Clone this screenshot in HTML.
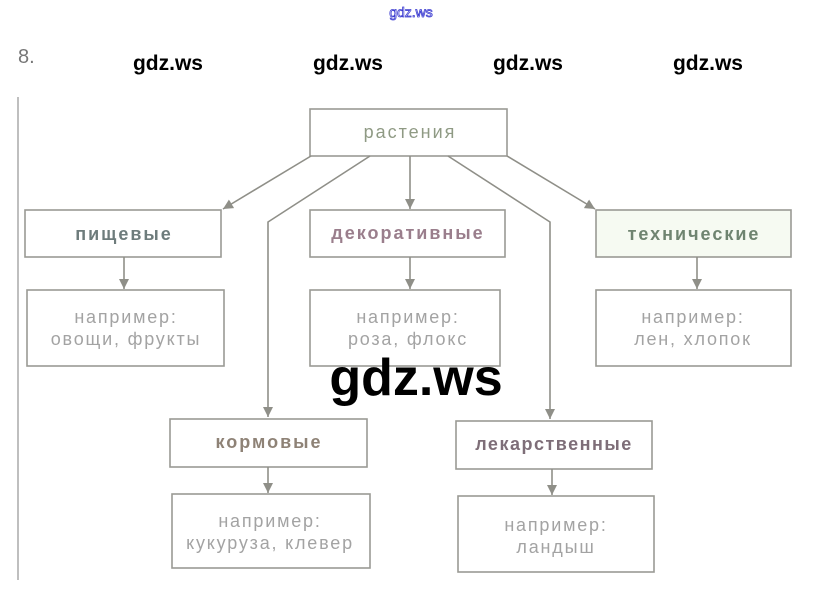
<!DOCTYPE html>
<html><head><meta charset="utf-8">
<style>
html,body{margin:0;padding:0;background:#fff;}
svg{display:block;}
</style></head>
<body>
<svg width="823" height="610" viewBox="0 0 823 610" xmlns="http://www.w3.org/2000/svg" font-family="'Liberation Sans', 'DejaVu Sans', sans-serif">
<defs>
<marker id="a" viewBox="0 0 10 10" refX="10" refY="5" markerWidth="10" markerHeight="10" markerUnits="userSpaceOnUse" orient="auto">
<path d="M0,0 L10,5 L0,10 Z" fill="#8f8f88"/>
</marker>
</defs>
<rect width="823" height="610" fill="#fff"/>
<text x="411" y="17" text-anchor="middle" font-size="14" fill="#fff" stroke="#3a3ad0" stroke-width="0.8">gdz.ws</text>
<text x="18" y="63" font-size="20" fill="#777">8.</text>
<g font-size="21" font-weight="bold" fill="#000" text-anchor="middle">
<text x="168" y="70">gdz.ws</text>
<text x="348" y="70">gdz.ws</text>
<text x="528" y="70">gdz.ws</text>
<text x="708" y="70">gdz.ws</text>
</g>
<line x1="18" y1="97" x2="18" y2="580" stroke="#aaa" stroke-width="1.5"/>
<g fill="none" stroke="#9a9a94" stroke-width="1.6">
<rect x="310" y="109" width="197" height="47"/>
<rect x="25" y="210" width="196" height="47"/>
<rect x="310" y="210" width="195" height="47"/>
<rect x="596" y="210" width="195" height="47" fill="#f6faf2"/>
<rect x="27" y="290" width="197" height="76"/>
<rect x="310" y="290" width="190" height="76"/>
<rect x="596" y="290" width="195" height="76"/>
<rect x="170" y="419" width="197" height="48"/>
<rect x="456" y="421" width="196" height="48"/>
<rect x="172" y="494" width="198" height="74"/>
<rect x="458" y="496" width="196" height="76"/>
</g>
<g fill="none" stroke="#8f8f88" stroke-width="1.6">
<line x1="311" y1="156" x2="223" y2="209" marker-end="url(#a)"/>
<polyline points="370,156 268,222 268,417" marker-end="url(#a)"/>
<line x1="410" y1="156" x2="410" y2="209" marker-end="url(#a)"/>
<polyline points="448,156 550,222 550,419" marker-end="url(#a)"/>
<line x1="507" y1="156" x2="595" y2="209" marker-end="url(#a)"/>
<line x1="124" y1="257" x2="124" y2="289" marker-end="url(#a)"/>
<line x1="410" y1="257" x2="410" y2="289" marker-end="url(#a)"/>
<line x1="697" y1="257" x2="697" y2="289" marker-end="url(#a)"/>
<line x1="268" y1="467" x2="268" y2="493" marker-end="url(#a)"/>
<line x1="552" y1="469" x2="552" y2="495" marker-end="url(#a)"/>
</g>
<g font-size="18" font-weight="bold" text-anchor="middle" letter-spacing="2">
<text x="410" y="138" fill="#8f9a84" font-weight="normal">растения</text>
<text x="124" y="240" fill="#6e7c7c">пищевые</text>
<text x="408" y="239" fill="#9a7e8c">декоративные</text>
<text x="694" y="240" fill="#6f8470">технические</text>
<text x="269" y="448" fill="#8e8276">кормовые</text>
<text x="554" y="450" fill="#7e6e78" letter-spacing="1.5">лекарственные</text>
</g>
<g font-size="18" fill="#a3a3a3" text-anchor="middle" letter-spacing="1.8">
<text x="126" y="323">например:</text>
<text x="126" y="345">овощи, фрукты</text>
<text x="408" y="323">например:</text>
<text x="408" y="345">роза, флокс</text>
<text x="693" y="323">например:</text>
<text x="693" y="345">лен, хлопок</text>
<text x="270" y="527">например:</text>
<text x="270" y="549">кукуруза, клевер</text>
<text x="556" y="531">например:</text>
<text x="556" y="553">ландыш</text>
</g>
<text x="416" y="395" font-size="52" font-weight="bold" fill="#000" text-anchor="middle">gdz.ws</text>
</svg>
</body></html>
